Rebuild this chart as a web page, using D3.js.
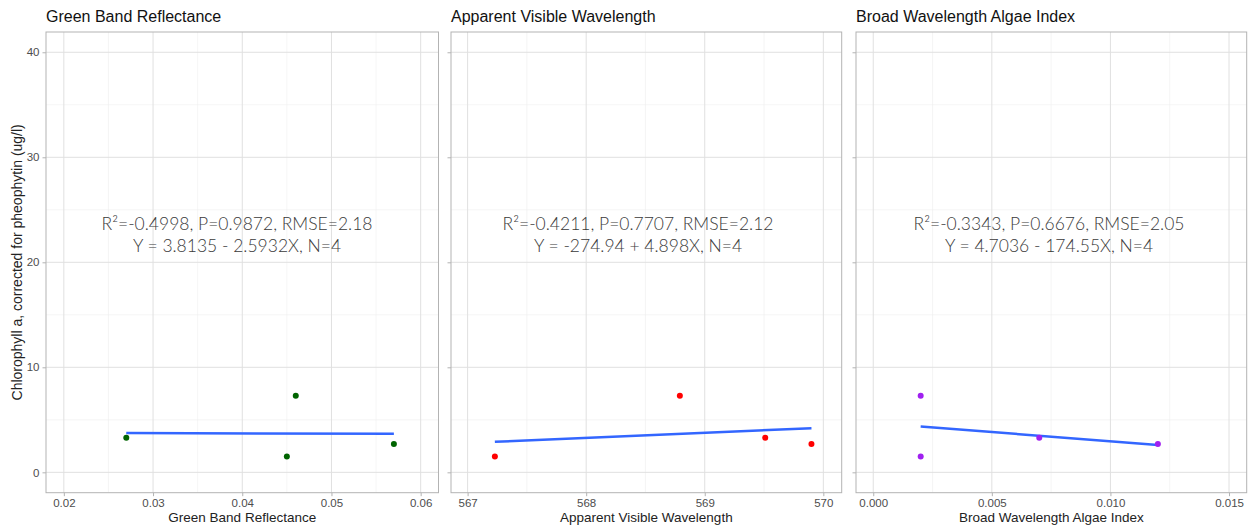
<!DOCTYPE html>
<html>
<head>
<meta charset="utf-8">
<script src="https://cdn.jsdelivr.net/npm/d3@7"></script>
<style>
  body { margin: 0; background: #fff; }
  svg { display: block; font-family: "Liberation Sans", Arial, sans-serif; }
</style>
</head>
<body>
<script>
const panel_titles = ['Green Band Reflectance', 'Apparent Visible Wavelength', 'Broad Wavelength Algae Index']
const green_band = [0.027, 0.045, 0.046, 0.057]
const green_chl = [3.3, 1.5, 7.3, 2.7]
const wavelength = [567.23, 568.79, 569.51, 569.9]
const wavelength_chl = [1.5, 7.3, 3.3, 2.7]
const algae_index = [0.002, 0.002, 0.007, 0.012]
const algae_chl = [7.3, 1.5, 3.3, 2.7]
const point_colors = ['#006400', '#ff0000', '#a020f0']
const x_ticks = [
  [0.02, 0.03, 0.04, 0.05, 0.06],
  [567, 568, 569, 570],
  [0.000, 0.005, 0.010, 0.015]
]
const x_minor = [
  [0.025, 0.035, 0.045, 0.055],
  [567.5, 568.5, 569.5],
  [0.0025, 0.0075, 0.0125]
]
const x_formats = ['.2f', '.0f', '.3f']
const x_domains = [[0.018, 0.062], [566.86, 570.155], [-0.000727, 0.015745]]
const y_ticks = [0, 10, 20, 30, 40]
const y_minor = [5, 15, 25, 35]
const y_domain = [-1.94, 41.93]
const stat_lines = [
  ['R²=-0.4998, P=0.9872, RMSE=2.18', 'Y = 3.8135 - 2.5932X, N=4'],
  ['R²=-0.4211, P=0.7707, RMSE=2.12', 'Y = -274.94 + 4.898X, N=4'],
  ['R²=-0.3343, P=0.6676, RMSE=2.05', 'Y = 4.7036 - 174.55X, N=4']
]
const y_label = 'Chlorophyll a, corrected for pheophytin (ug/l)'

const series = [
  { x: green_band, y: green_chl },
  { x: wavelength, y: wavelength_chl },
  { x: algae_index, y: algae_chl }
]

// panel boxes in pixels
const panel_left = [46, 451, 856]
const panel_width = [392.5, 390.7, 390.7]
const panel_top = 32
const panel_bottom = 492.7
const stat_center = [237, 638, 1049]

const svg = d3.select('body').append('svg')
  .attr('width', 1249)
  .attr('height', 529)

const y = d3.scaleLinear().domain(y_domain).range([panel_bottom, panel_top])

// least squares fit, like geom_smooth(method = 'lm')
function fit(xs, ys) {
  const mx = d3.mean(xs), my = d3.mean(ys)
  const sxy = d3.sum(xs, (d, i) => (d - mx) * (ys[i] - my))
  const sxx = d3.sum(xs, d => (d - mx) * (d - mx))
  const b = sxy / sxx
  return { a: my - b * mx, b: b }
}

series.forEach((s, p) => {
  const x = d3.scaleLinear().domain(x_domains[p])
    .range([panel_left[p], panel_left[p] + panel_width[p]])
  const g = svg.append('g')

  // grid
  g.selectAll('line.xminor').data(x_minor[p]).enter().append('line')
    .attr('x1', d => x(d)).attr('x2', d => x(d))
    .attr('y1', panel_top).attr('y2', panel_bottom)
    .attr('stroke', '#efefef').attr('stroke-width', 0.6)
  g.selectAll('line.yminor').data(y_minor).enter().append('line')
    .attr('x1', x.range()[0]).attr('x2', x.range()[1])
    .attr('y1', d => y(d)).attr('y2', d => y(d))
    .attr('stroke', '#efefef').attr('stroke-width', 0.6)
  g.selectAll('line.xmajor').data(x_ticks[p]).enter().append('line')
    .attr('x1', d => x(d)).attr('x2', d => x(d))
    .attr('y1', panel_top).attr('y2', panel_bottom)
    .attr('stroke', '#e0e0e0').attr('stroke-width', 1)
  g.selectAll('line.ymajor').data(y_ticks).enter().append('line')
    .attr('x1', x.range()[0]).attr('x2', x.range()[1])
    .attr('y1', d => y(d)).attr('y2', d => y(d))
    .attr('stroke', '#e0e0e0').attr('stroke-width', 1)

  // stats annotation
  const t = g.append('text')
    .attr('text-anchor', 'middle')
    .attr('font-family', 'Lato, "Open Sans", sans-serif')
    .attr('font-weight', 300)
    .attr('font-size', '17.5px')
    .attr('fill', '#3a3a3a')
  stat_lines[p].forEach((line, i) => {
    t.append('tspan').attr('x', stat_center[p]).attr('y', 230 + i * 22).text(line)
  })

  // fitted line
  const f = fit(s.x, s.y)
  const ext = d3.extent(s.x)
  g.append('line')
    .attr('x1', x(ext[0])).attr('y1', y(f.a + f.b * ext[0]))
    .attr('x2', x(ext[1])).attr('y2', y(f.a + f.b * ext[1]))
    .attr('stroke', '#3366ff').attr('stroke-width', 2.5)

  // points
  g.selectAll('circle').data(s.x).enter().append('circle')
    .attr('cx', d => x(d))
    .attr('cy', (d, i) => y(s.y[i]))
    .attr('r', 3)
    .attr('fill', point_colors[p])

  // panel border
  g.append('rect')
    .attr('x', x.range()[0]).attr('y', panel_top)
    .attr('width', panel_width[p]).attr('height', panel_bottom - panel_top)
    .attr('fill', 'none').attr('stroke', '#b3b3b3').attr('stroke-width', 1)

  // x axis
  const xa = g.append('g')
    .attr('transform', `translate(0,${panel_bottom})`)
    .call(d3.axisBottom(x).tickValues(x_ticks[p]).tickFormat(d3.format(x_formats[p])).tickSize(3.5).tickPadding(3))
  xa.select('.domain').remove()
  xa.selectAll('line').attr('stroke', '#b3b3b3')
  xa.selectAll('text').attr('fill', '#4d4d4d').attr('font-size', '11.5px')

  // y axis (labels only on first panel)
  const ya = g.append('g')
    .attr('transform', `translate(${x.range()[0]},0)`)
    .call(d3.axisLeft(y).tickValues(y_ticks).tickSize(3.5).tickPadding(3)
      .tickFormat(p === 0 ? d3.format('d') : () => ''))
  ya.select('.domain').remove()
  ya.selectAll('line').attr('stroke', '#b3b3b3')
  ya.selectAll('text').attr('fill', '#4d4d4d').attr('font-size', '11.5px')

  // axis title
  g.append('text')
    .attr('x', (x.range()[0] + x.range()[1]) / 2)
    .attr('y', 522)
    .attr('text-anchor', 'middle')
    .attr('font-size', '13.5px')
    .attr('fill', '#222')
    .text(panel_titles[p])

  // panel title
  g.append('text')
    .attr('x', x.range()[0])
    .attr('y', 22)
    .attr('font-size', '16px')
    .attr('fill', '#111')
    .text(panel_titles[p])
})

svg.append('text')
  .attr('transform', `translate(22,${(panel_top + panel_bottom) / 2}) rotate(-90)`)
  .attr('text-anchor', 'middle')
  .attr('font-size', '14px')
  .attr('fill', '#222')
  .text(y_label)
</script>
</body>
</html>
